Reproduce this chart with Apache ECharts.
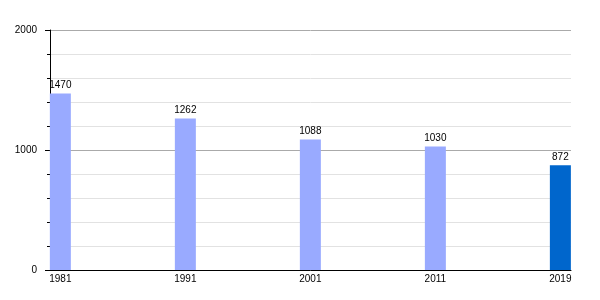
<!DOCTYPE html>
<html>
<head>
<meta charset="utf-8">
<script src="https://cdn.jsdelivr.net/npm/echarts@6/dist/echarts.min.js"></script>
<style>html,body{margin:0;padding:0;background:#fff}#c{width:600px;height:300px}</style>
</head>
<body>
<div id="c"></div>
<script>
const years = ['1981', '1991', '2001', '2011', '2019'];
const values = [1470, 1262, 1088, 1030, 872];
const yTicks = [0, 1000, 2000];

const chart = echarts.init(document.getElementById('c'), null, {renderer: 'canvas'});
const font = 'Liberation Sans, Arial, sans-serif';
chart.setOption({
  animation: false,
  backgroundColor: '#fff',
  grid: {left: 50, right: 29, top: 30, bottom: 30, containLabel: false},
  xAxis: {
    type: 'value',
    min: -0.0828,
    max: 4.085,
    axisLine: {show: true, onZero: false, lineStyle: {color: '#000', width: 1}},
    axisTick: {show: false},
    splitLine: {show: false},
    axisLabel: {
      customValues: years.map((_, i) => i),
      formatter: v => years[Math.round(v)],
      color: '#000', fontSize: 10, fontFamily: font, margin: 4
    }
  },
  yAxis: {
    type: 'value',
    min: yTicks[0],
    max: yTicks[yTicks.length - 1],
    interval: 1000,
    axisLine: {show: true, onZero: false, lineStyle: {color: '#000', width: 1}},
    axisTick: {show: true, length: 5, lineStyle: {color: '#000'}},
    minorTick: {show: true, splitNumber: 5, length: 3, lineStyle: {color: '#000'}},
    splitLine: {show: true, lineStyle: {color: '#aaaaaa', width: 1}},
    minorSplitLine: {show: true, lineStyle: {color: '#e2e2e2', width: 1}},
    axisLabel: {color: '#000', fontSize: 10, fontFamily: font, margin: 13, formatter: v => String(v)}
  },
  series: [{
    type: 'bar',
    barWidth: 21,
    data: values.map((v, i) => [i, v]),
    itemStyle: {
      color: p => p.dataIndex === values.length - 1 ? '#0066cc' : '#99aaff'
    },
    label: {
      show: true, position: 'top', distance: 3,
      formatter: p => String(p.value[1]),
      color: '#000', fontSize: 10, fontFamily: font
    }
  }]
});
</script>
</body>
</html>
